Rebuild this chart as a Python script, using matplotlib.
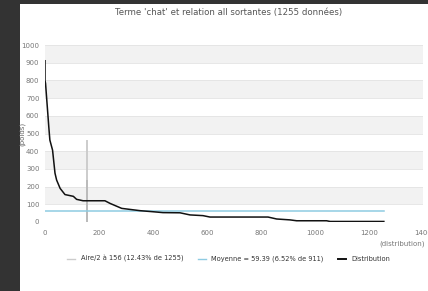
import matplotlib
matplotlib.use("Agg")
import matplotlib.pyplot as plt
from matplotlib.patches import Rectangle

# Distribution curve (rank, weight)
dist_x = [0, 0, 2, 11, 14, 18, 28, 37, 43, 56, 74, 105, 117, 141, 204, 222,
          241, 284, 352, 400, 437, 500, 537, 585, 611, 826, 858, 907, 932,
          1043, 1056, 1255]
dist_y = [911, 800, 783, 600, 538, 463, 406, 276, 237, 190, 155, 145, 128,
          120, 120, 120, 105, 77, 64, 58, 53, 52, 40, 36, 28, 28, 17, 12, 7,
          7, 3, 3]

n_total = 1255
aire_x = 156
aire_top = 460
aire_mid = 230
mean_val = 59.39

title = "Terme 'chat' et relation all sortantes (1255 données)"
legend_labels = [
    "Aire/2 à 156 (12.43% de 1255)",
    "Moyenne = 59.39 (6.52% de 911)",
    "Distribution",
]

W, H = 428, 291
fig = plt.figure(figsize=(W / 100, H / 100), dpi=100)
fig.patch.set_facecolor("#333333")
fig.add_artist(Rectangle((20 / W, 0), 1 - 20 / W, (H - 4) / H,
                         transform=fig.transFigure, facecolor="white",
                         edgecolor="none", zorder=0))

ax = fig.add_axes([45 / W, (H - 222) / H, (423 - 45) / W, (222 - 45) / H])
ax.set_facecolor("white")
ax.set_xlim(0, 1400)
ax.set_ylim(0, 1000)

# alternating grey bands
for lo in range(100, 1000, 200):
    ax.axhspan(lo, lo + 100, color="#f2f2f2", zorder=0, lw=0)
for v in range(0, 1001, 100):
    ax.axhline(v, color="#e3e3e3", lw=0.6, zorder=0.5)

ax.plot([aire_x, aire_x], [0, aire_top], color="#cccccc", lw=1.4, zorder=2)
ax.plot([aire_x, aire_x], [0, aire_mid], color="#bbbbbb", lw=1.4, zorder=2)
ax.plot([0, n_total], [mean_val, mean_val], color="#8ecbe2", lw=1.1, zorder=2)
ax.plot(dist_x, dist_y, color="#111111", lw=1.1, zorder=3)

for s in ax.spines.values():
    s.set_visible(False)
ax.set_xticks(range(0, 1401, 200))
ax.set_yticks(range(0, 1001, 100))
ax.tick_params(axis="y", length=0, labelsize=5, labelcolor="#777777", pad=4)
ax.tick_params(axis="x", length=0, labelsize=5, labelcolor="#777777", pad=6)
ax.set_ylabel("(poids)", fontsize=5, color="#666666")
ax.yaxis.set_label_coords(-20 / 378, 0.5)
fig.text(425 / W, 1 - 244 / H, "(distribution)", ha="right", va="center",
         fontsize=5, color="#777777")
fig.text(229 / W, 1 - 13 / H, title, ha="center", va="center",
         fontsize=6.2, color="#555555")

handles = [
    plt.Line2D([], [], color="#cccccc", lw=1.0),
    plt.Line2D([], [], color="#8ecbe2", lw=1.0),
    plt.Line2D([], [], color="#111111", lw=1.4),
]
fig.legend(handles, legend_labels, loc="center", ncol=3,
           bbox_to_anchor=(229 / W, 1 - 259 / H), frameon=False,
           fontsize=4.8, labelcolor="#333333", handlelength=1.2,
           handletextpad=0.8, columnspacing=2.2)

fig.savefig("out.png", dpi=100, facecolor=fig.get_facecolor())
